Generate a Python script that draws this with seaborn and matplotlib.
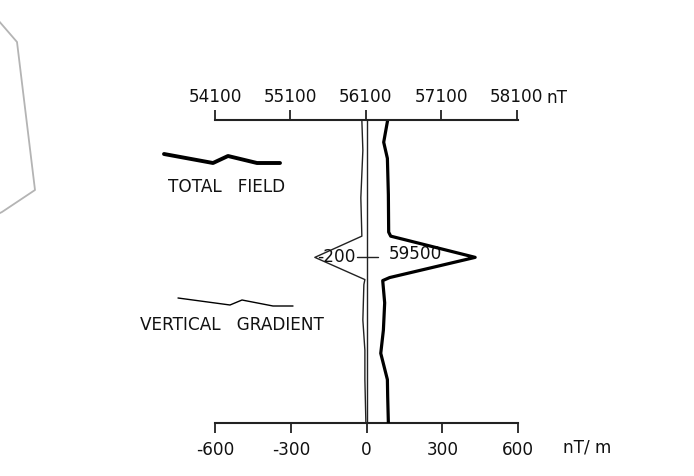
import numpy as np
import pandas as pd
import matplotlib
matplotlib.use("Agg")
import matplotlib.pyplot as plt
import seaborn as sns

# ---- data ----
tf_dist = [0.0, 2.2, 3.8, 7.4, 11.1, 11.5, 13.6, 15.6, 15.9, 18.1, 20.8, 23.1, 25.7, 27.4, 30.0]
tf_value = [56390, 56337, 56386, 56399, 56403, 56430, 57550, 56416, 56324, 56350, 56333, 56298, 56386, 56390, 56399]

vg_dist = [0.0, 3.0, 7.7, 11.5, 13.6, 15.8, 16.3, 19.8, 22.8, 25.7, 30.0]
vg_value = [-19, -15, -23, -19, -205, -7, -11, -15, -7, -7, -3]

grad_ticks = [-600, -300, 0, 300, 600]
field_ticks = [54100, 55100, 56100, 57100, 58100]
peak_tf_label = "59500"
peak_vg_label = "-200"

# legend sample traces and map outline (figure pixel space decorations)
leg_tf_x = [164, 213, 228, 257, 280]
leg_tf_y = [154, 163, 156, 163, 163]
leg_vg_x = [178, 230, 242, 273, 293]
leg_vg_y = [298, 305, 300, 306, 306]
map_x = [-2, 17, 35, 2, -2]
map_y = [20, 42, 190, 212, 214]

sns.set_theme(style="white")
plt.rcParams['font.family'] = ['DejaVu Sans']

FS = 12.2
W, H = 694, 476
fig = plt.figure(figsize=(W / 100, H / 100), dpi=100)
fig.patch.set_facecolor("white")

# decoration layer in pixel coordinates
deco = fig.add_axes([0, 0, 1, 1])
deco.set_xlim(0, W)
deco.set_ylim(H, 0)
deco.axis("off")
sns.lineplot(x=map_x, y=map_y, sort=False, estimator=None, ax=deco, color="#b4b4b4", linewidth=1.3)
sns.lineplot(x=leg_tf_x, y=leg_tf_y, sort=False, estimator=None, ax=deco, color="black", linewidth=2.8)
sns.lineplot(x=leg_vg_x, y=leg_vg_y, sort=False, estimator=None, ax=deco, color="black", linewidth=1.0)
deco.text(168, 187, "TOTAL   FIELD", fontsize=FS, va="center", ha="left", color="#111111")
deco.text(140, 325, "VERTICAL   GRADIENT", fontsize=FS, va="center", ha="left", color="#111111")

# main axes: vertical gradient (bottom scale)
l, r = 215 / W, 518.3 / W
b, t = 1 - 423 / H, 1 - 120 / H
ax = fig.add_axes([l, b, r - l, t - b])
ax.patch.set_alpha(0)
vg = pd.DataFrame({"dist": vg_dist, "grad": vg_value})
sns.lineplot(data=vg, x="grad", y="dist", sort=False, estimator=None, ax=ax,
             color="#222222", linewidth=1.0, orient="y")
ax.axvline(0, color="#222222", linewidth=1.0)
ax.set_xlim(-600, 600)
ax.set_ylim(30, 0)
ax.set_xticks(grad_ticks)
ax.set_xticklabels([str(v) for v in grad_ticks])
ax.set_yticks([])
ax.set_xlabel("")
ax.set_ylabel("")
for s in ["left", "right", "top"]:
    ax.spines[s].set_visible(False)
ax.spines["bottom"].set_color("#222222")
ax.spines["bottom"].set_linewidth(1.5)
ax.tick_params(axis="x", direction="out", length=7, width=1.3, color="#222222",
               labelsize=FS, pad=6, labelcolor="#111111", bottom=True)

# twin axis: total field (top scale)
ax2 = ax.twiny()
ax2.patch.set_alpha(0)
tf = pd.DataFrame({"dist": tf_dist, "field": tf_value})
sns.lineplot(data=tf, x="field", y="dist", sort=False, estimator=None, ax=ax2,
             color="black", linewidth=2.3, orient="y")
ax2.set_xlim(54122, 58122)
ax2.set_ylim(30, 0)
ax2.set_xticks(field_ticks)
ax2.set_xticklabels([str(v) for v in field_ticks])
ax2.set_xlabel("")
ax2.set_ylabel("")
for s in ["left", "right", "bottom"]:
    ax2.spines[s].set_visible(False)
ax2.spines["top"].set_color("#222222")
ax2.spines["top"].set_linewidth(1.5)
ax2.tick_params(axis="x", direction="out", length=7, width=1.3, color="#222222",
                labelsize=FS, pad=3, labelcolor="#111111", top=True)

# peak annotations
pk = vg_dist[int(np.argmin(vg_value))]
ax.plot([-38, 45], [pk, pk], color="#222222", linewidth=1.0)
ax.text(-42, pk, peak_vg_label, ha="right", va="center", fontsize=FS, color="#111111")
ax.text(88, pk - 0.3, peak_tf_label, ha="left", va="center", fontsize=FS, color="#111111")

# unit labels
deco.text(547, 98, "nT", fontsize=FS, va="center", ha="left", color="#111111")
deco.text(563, 448, "nT/ m", fontsize=FS, va="center", ha="left", color="#111111")

fig.savefig("out.png", dpi=100, facecolor="white")
